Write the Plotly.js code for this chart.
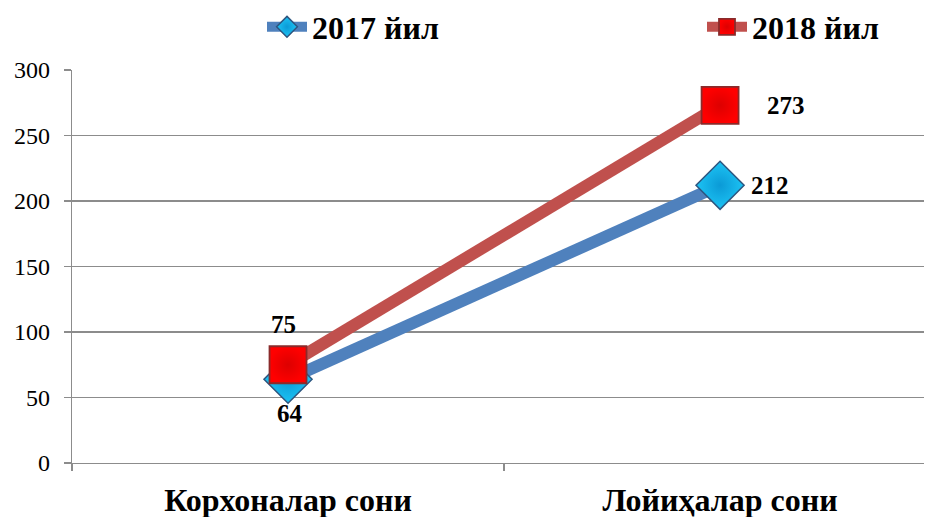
<!DOCTYPE html>
<html><head><meta charset="utf-8">
<script src="https://cdn.plot.ly/plotly-3.0.1.min.js"></script>
<style>body{margin:0;background:#fff}#chart{width:926px;height:517px}</style>
</head><body><div id="chart"></div>
<script>
const categories = ["Корхоналар сони", "Лойиҳалар сони"];
const seriesNames = ["2017 йил", "2018 йил"];
const values2017 = [64, 212];
const values2018 = [75, 273];
const yTicks = [0, 50, 100, 150, 200, 250, 300];

const FAM = "Liberation Serif";

const traces = [
  {
    x: categories, y: values2017, name: seriesNames[0], type: "scatter", mode: "lines+markers",
    legend: "legend",
    line: {color: "#4F81BD", width: 12},
    marker: {symbol: "diamond", size: 37, color: "#1CC3F4",
             gradient: {type: "radial", color: "#0B9AD6"},
             line: {color: "#2D5680", width: 1.5}},
    cliponaxis: false
  },
  {
    x: categories, y: values2018, name: seriesNames[1], type: "scatter", mode: "lines+markers",
    legend: "legend2",
    line: {color: "#C0504D", width: 12},
    marker: {symbol: "square", size: 37, color: "#FF0000",
             gradient: {type: "radial", color: "#DD0000"},
             line: {color: "#8A2B2B", width: 1.8}},
    cliponaxis: false
  }
];

// label offsets (styling only)
const labelShifts2017 = [{xs: 2, ys: -34}, {xs: 50, ys: 0}];
const labelShifts2018 = [{xs: -5, ys: 40}, {xs: 66, ys: 0}];
const annotations = [];
categories.forEach((c, i) => {
  annotations.push({x: c, y: values2017[i], text: String(values2017[i]), showarrow: false,
    xshift: labelShifts2017[i].xs, yshift: labelShifts2017[i].ys,
    font: {family: FAM, size: 25, color: "#000", weight: "bold"}});
  annotations.push({x: c, y: values2018[i], text: String(values2018[i]), showarrow: false,
    xshift: labelShifts2018[i].xs, yshift: labelShifts2018[i].ys,
    font: {family: FAM, size: 25, color: "#000", weight: "bold"}});
});

const legendStyle = (xpx) => ({
  orientation: "h", xref: "container", yref: "container",
  x: xpx/926, xanchor: "left", y: 1 - 27/517, yanchor: "middle",
  font: {family: FAM, size: 32, color: "#000", weight: "bold"},
  itemwidth: 40, bgcolor: "rgba(0,0,0,0)"
});

const layout = {
  width: 926, height: 517,
  margin: {l: 72, r: 2, t: 70, b: 54, autoexpand: false},
  paper_bgcolor: "#fff", plot_bgcolor: "#fff",
  font: {family: FAM},
  showlegend: true,
  legend: legendStyle(262),
  legend2: legendStyle(702),
  xaxis: {
    type: "category", range: [-0.5, 1.472],
    tickson: "boundaries", ticks: "outside", ticklen: 7, tickcolor: "#8C8C8C", tickwidth: 1.3,
    showline: true, linecolor: "#8C8C8C", linewidth: 1.3,
    showgrid: false, zeroline: false,
    ticklabelstandoff: 8,
    tickfont: {family: FAM, size: 32, color: "#000", weight: "bold"}
  },
  yaxis: {
    range: [0, 300], tickvals: yTicks, ticktext: yTicks.map(String),
    ticks: "outside", ticklen: 7, tickcolor: "#8C8C8C", tickwidth: 1.3,
    showline: true, linecolor: "#8C8C8C", linewidth: 1.3,
    showgrid: true, gridcolor: "#8C8C8C", gridwidth: 1.3,
    zeroline: false, ticklabelstandoff: 9,
    tickfont: {family: FAM, size: 24, color: "#000"}
  },
  annotations: annotations
};

Plotly.newPlot("chart", traces, layout, {displayModeBar: false, staticPlot: true});
</script></body></html>
